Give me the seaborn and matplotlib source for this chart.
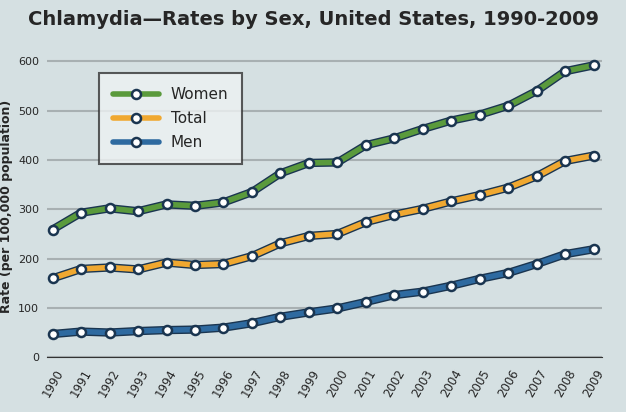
import matplotlib
matplotlib.use("Agg")
import matplotlib.pyplot as plt
import seaborn as sns
import pandas as pd

years = list(range(1990, 2010))
women = [259, 293, 302, 296, 310, 307, 314, 335, 373, 394, 395, 430, 444, 463, 480, 492, 510, 540, 580, 592]
total = [160, 179, 182, 178, 192, 187, 189, 205, 231, 246, 250, 274, 289, 301, 316, 329, 344, 367, 398, 409]
men = [47, 52, 50, 53, 55, 56, 60, 69, 82, 91, 99, 112, 126, 133, 145, 159, 171, 189, 209, 219]

sns.set_style("white")
plt.rcParams['font.family'] = ['DejaVu Sans']
bg = "#d5e0e2"
fig = plt.figure(figsize=(6.26, 4.12), dpi=100, facecolor=bg)
ax = fig.add_axes([0.075, 0.133, 0.887, 0.73])
ax.set_facecolor(bg)

series = [("Women", women, "#5a9a3c"), ("Total", total, "#f0a830"), ("Men", men, "#2e6aa0")]
for name, vals, col in series:
    df = pd.DataFrame({"year": years, "v": vals})
    sns.lineplot(data=df, x="year", y="v", ax=ax, color=col, lw=4, label=name,
                 marker="o", markersize=6.5, markerfacecolor="white", markeredgecolor="#1a3550",
                 markeredgewidth=1.8, zorder=3)
    ax.plot(years, vals, color="#1a3550", lw=6, zorder=2)

ax.set_ylim(0, 610)
ax.set_xlim(1989.8, 2009.3)
ax.set_yticks(range(0, 601, 100))
ax.set_xticks(years)
ax.set_xticklabels([str(y) for y in years], rotation=60, fontsize=8.5)
ax.tick_params(axis='y', labelsize=8, pad=2)
ax.yaxis.grid(True, color="#a8b0b2", lw=1.5)
for s in ["top", "right", "left"]:
    ax.spines[s].set_visible(False)
ax.spines["bottom"].set_color("#333333")
ax.set_xlabel("")
ax.set_ylabel("Rate (per 100,000 population)", fontsize=9, fontweight="bold", labelpad=4)
fig.suptitle("Chlamydia—Rates by Sex, United States, 1990-2009", fontsize=14, fontweight="bold",
             x=0.5, y=0.975)
leg = ax.legend(loc="upper left", bbox_to_anchor=(0.08, 0.97), fontsize=11, handlelength=3,
                frameon=True, fancybox=False, edgecolor="#333333", borderpad=0.9, labelspacing=0.6)
leg.get_frame().set_facecolor("#eef2f3")
leg.get_frame().set_linewidth(1.5)
fig.savefig("out.png", dpi=100, facecolor=bg)
